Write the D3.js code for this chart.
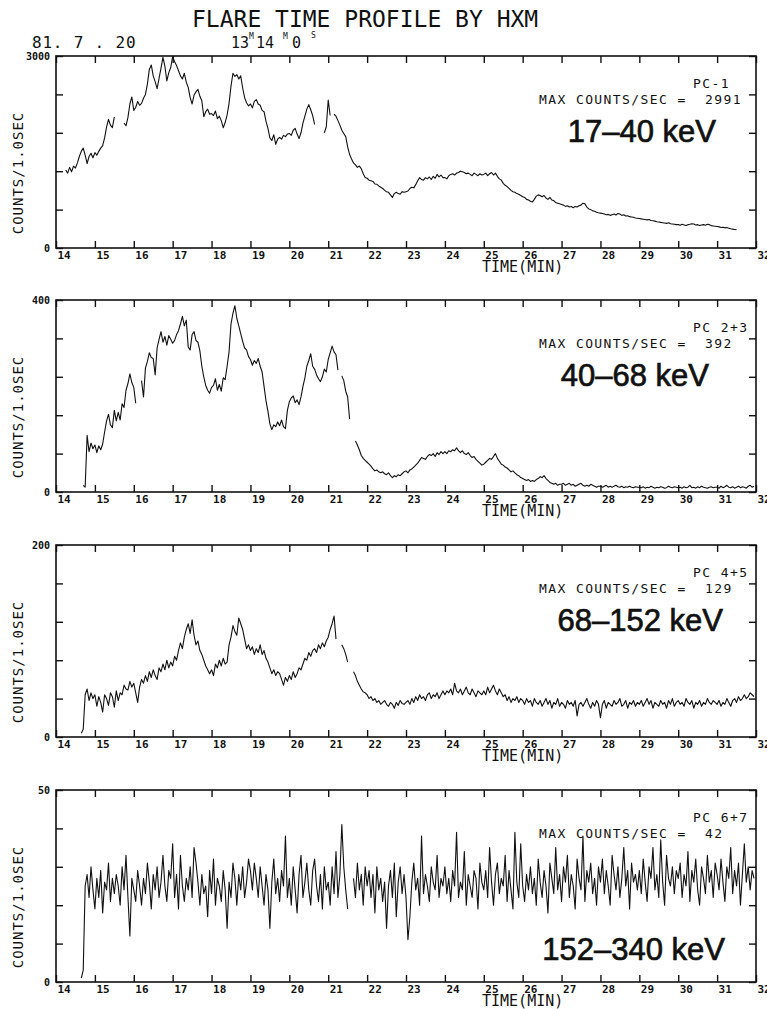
<!DOCTYPE html>
<html>
<head>
<meta charset="utf-8">
<script src="https://cdn.jsdelivr.net/npm/d3@7"></script>
<style>
  body { margin: 0; background: #fff; }
  svg text { font-family: "DejaVu Sans Mono", monospace; fill: #111; white-space: pre; }
  svg text.band { font-family: "Liberation Sans", Arial, sans-serif; stroke: #111; stroke-width: 0.7px; }
</style>
</head>
<body>
<div id="canvas"></div>
<script>

var _ = null;

// one row per minute, samples every 0.05 min (3 s)
var minutes = [14, 15, 16, 17, 18, 19, 20, 21, 22, 23, 24, 25, 26, 27, 28, 29, 30, 31];
var step = 0.05;
var xTicks = [14, 15, 16, 17, 18, 19, 20, 21, 22, 23, 24, 25, 26, 27, 28, 29, 30, 31, 32];

var bands = ['17\u201340 keV', '40\u201368 keV', '68\u2013152 keV', '152\u2013340 keV'];
var counters = ['PC-1', 'PC 2+3', 'PC 4+5', 'PC 6+7'];
var maxCounts = [2991, 392, 129, 42];
var yTop = [3000, 400, 200, 50];

var pc1 = [
  [_,_,_,_,_,1220,1170,1260,1190,1280,1250,1330,1430,1510,1560,1450,1320,1430,1480,1410],
  [1490,1450,1510,1560,1600,1720,1890,2010,1920,1880,2050,_,_,_,_,1950,1910,2040,2250,2360],
  [2150,2200,2290,2230,2260,2340,2400,2560,2790,2860,2690,2600,2490,2650,2810,2980,2840,2610,2740,2820],
  [2990,2910,2850,2770,2690,2640,2730,2590,2510,2350,2250,2390,2440,2480,2370,2300,2050,2130,2170,2090],
  [2100,2070,2140,2020,2060,1990,1880,1960,2080,2260,2530,2730,2680,2710,2640,2690,2500,2350,2270,2220],
  [2250,2190,2290,2320,2250,2230,2150,2130,1980,1870,1720,1680,1770,1620,1700,1730,1700,1760,1740,1780],
  [1790,1760,1840,1870,1780,1710,1800,1950,2060,2170,2240,2160,2070,1930,_,_,_,_,1800,1890],
  [2310,2070,_,2090,2060,1990,1920,1840,1790,1740,1580,1460,1390,1330,1300,1260,1280,1240,1160,1100],
  [1090,1060,1050,1040,1000,995,970,950,930,900,880,870,830,790,850,870,850,840,880,870],
  [880,890,930,950,940,990,1050,1100,1070,1060,1100,1080,1110,1070,1120,1090,1150,1110,1140,1100],
  [1100,1080,1130,1150,1160,1140,1170,1180,1200,1190,1180,1160,1170,1150,1130,1170,1150,1130,1160,1140],
  [1150,1170,1130,1160,1180,1140,1170,1120,1080,1060,1010,980,960,930,900,880,870,850,840,820],
  [800,790,760,750,730,720,760,810,830,820,800,820,780,760,790,750,740,710,700,690],
  [680,670,650,660,640,650,630,650,640,660,670,700,690,640,610,600,580,575,560,550],
  [545,540,530,520,525,510,520,530,515,540,530,510,520,500,505,490,485,480,470,465],
  [460,455,450,445,440,445,430,425,420,410,405,400,395,390,385,395,380,375,370,365],
  [365,355,370,360,350,365,370,380,375,360,365,350,360,365,355,370,365,350,345,340],
  [335,330,320,325,315,320,310,300,295,290,285,_,_,_,_,_,_,_,_,_]
];

var pc23 = [
  [_,_,_,_,_,_,_,_,_,_,_,_,_,_,14,10,118,84,102,90],
  [98,82,96,88,100,125,148,162,140,134,170,148,166,150,184,176,212,226,246,228],
  [218,185,_,_,232,198,258,272,290,280,278,244,300,318,334,312,324,306,326,318],
  [310,316,328,336,350,366,346,358,302,296,328,334,316,312,294,262,240,222,212,206],
  [218,222,236,212,224,210,238,234,262,292,350,372,388,362,346,330,314,300,296,282],
  [276,264,274,268,278,262,250,220,190,168,142,130,140,136,146,138,150,136,132,170],
  [188,196,200,186,192,182,198,220,238,262,274,288,262,256,244,236,230,240,256,250],
  [276,290,304,292,286,254,_,242,232,210,198,152,_,_,106,98,88,76,70,66],
  [62,58,54,48,44,46,42,40,42,38,36,40,34,30,34,32,36,34,38,42],
  [44,40,46,48,52,56,60,66,72,70,68,74,78,76,80,74,82,78,84,80],
  [84,80,86,84,88,86,92,86,82,86,80,78,82,76,72,74,68,64,60,56],
  [58,62,66,70,68,74,80,70,64,58,56,52,50,46,42,44,40,36,34,30],
  [28,26,24,26,22,24,22,26,28,32,30,34,28,24,20,18,16,18,14,16],
  [16,18,14,16,18,14,16,12,14,16,18,14,12,14,12,16,14,12,10,12],
  [12,10,12,14,10,12,10,12,14,11,10,12,9,11,10,12,10,9,11,10],
  [10,9,11,8,10,9,12,10,8,10,9,11,10,8,9,12,10,9,11,10],
  [9,10,8,11,9,10,14,9,10,8,11,9,12,10,9,8,10,11,9,10],
  [10,8,12,9,11,14,10,9,11,8,10,12,9,11,10,8,12,14,10,12]
];

var pc45 = [
  [_,_,_,_,_,_,_,_,_,_,_,_,_,4,8,44,50,38,46,40],
  [44,32,42,36,26,44,40,33,46,42,31,48,38,46,44,54,50,49,58,52],
  [56,46,36,52,60,56,64,58,68,62,70,64,60,72,68,76,70,80,72,78],
  [74,84,80,90,98,92,104,112,118,108,122,106,96,100,90,86,80,74,70,66],
  [70,64,76,72,80,74,82,76,78,96,104,116,110,106,124,118,112,102,92,96],
  [90,94,86,92,88,96,86,90,82,78,72,66,70,64,68,66,60,54,62,58],
  [64,60,68,62,66,72,70,76,82,80,88,84,90,92,88,96,92,98,94,100],
  [104,112,118,126,102,_,_,96,92,86,78,_,_,68,64,58,54,50,47,46],
  [44,40,42,38,40,36,38,34,36,38,34,32,36,34,30,36,33,38,35,34],
  [36,38,34,40,36,42,38,44,40,42,38,44,46,40,44,42,46,40,44,48],
  [44,48,46,50,44,56,48,46,50,44,48,52,46,44,50,46,42,48,46,44],
  [48,44,52,46,50,54,48,44,50,46,42,44,38,42,36,40,38,42,36,40],
  [38,34,40,36,38,32,40,36,34,38,32,36,40,34,38,30,36,34,40,32],
  [36,34,30,38,34,36,32,38,22,34,36,32,36,40,34,30,36,32,38,34],
  [20,34,38,30,36,34,32,38,34,36,40,32,34,38,30,36,34,38,32,36],
  [34,38,32,36,40,34,38,30,36,34,32,38,34,36,30,38,34,40,32,36],
  [38,34,36,32,40,36,34,38,30,36,34,38,32,36,34,40,36,34,38,36],
  [34,38,32,36,34,40,36,32,38,40,36,42,38,40,44,40,42,46,44,42]
];

var pc67 = [
  [_,_,_,_,_,_,_,_,_,_,_,_,_,1,3,25,28,22,30,24],
  [19,27,22,29,18,26,24,31,21,27,23,28,25,20,30,24,33,22,12,27],
  [24,21,29,25,20,27,23,31,26,19,28,24,30,22,26,33,25,21,29,27],
  [36,22,28,19,33,25,21,27,24,30,22,35,31,26,20,28,23,25,17,29],
  [23,32,20,27,25,21,29,24,14,26,22,31,27,20,28,24,30,22,26,32],
  [29,24,31,27,22,30,25,20,28,24,14,26,32,23,27,21,29,25,38,22],
  [27,20,30,24,18,28,33,22,26,31,24,20,29,32,25,21,28,19,30,24],
  [26,20,30,23,34,22,28,41,30,24,19,_,_,27,22,31,24,28,20,30],
  [25,29,22,28,18,30,24,27,21,26,14,25,29,22,31,17,26,30,23,28],
  [22,11,17,26,31,24,27,20,38,23,28,25,21,30,26,24,33,22,27,25],
  [30,23,27,21,29,25,39,22,26,24,34,20,28,25,22,29,27,19,31,26],
  [24,29,22,35,26,20,28,31,23,27,25,33,21,29,24,19,39,26,22,36],
  [25,21,28,24,30,23,27,20,32,26,22,29,25,18,31,27,23,35,24,28],
  [21,30,26,33,22,28,25,19,32,27,24,38,21,29,26,31,23,27,20,30],
  [26,32,23,29,25,20,33,28,24,30,22,27,35,25,29,19,31,26,28,24],
  [29,23,32,26,21,30,27,35,24,28,22,37,26,20,33,27,25,30,23,29],
  [27,31,22,28,25,34,21,29,26,32,24,20,30,27,23,33,26,29,22,31],
  [28,24,32,26,21,30,27,35,23,29,25,31,20,28,36,26,30,24,29,27]
];

var series = [pc1, pc23, pc45, pc67];

// layout
var left = 56, right = 756, panelH = 192;
var panelTop = [56, 300, 545, 790];
var bandBase = [86, 86, 86, 170];
var bandRight = [716, 709, 723, 725];

var svg = d3.select('#canvas').append('svg')
  .attr('width', 767)
  .attr('height', 1009);

var x = d3.scaleLinear().domain([14, 32]).range([left, right]);

svg.append('text')
  .attr('x', 192).attr('y', 27)
  .attr('font-size', 23)
  .text('FLARE TIME PROFILE BY HXM');

svg.append('text')
  .attr('x', 32).attr('y', 48)
  .attr('font-size', 16)
  .attr('letter-spacing', 0.8)
  .text('81. 7 . 20');

var stamp = [
  {t: '13', x: 231, y: 48, s: 15},
  {t: 'M', x: 249, y: 39, s: 8},
  {t: '14', x: 256, y: 48, s: 15},
  {t: 'M', x: 283, y: 39, s: 8},
  {t: '0', x: 292, y: 48, s: 15},
  {t: 'S', x: 311, y: 38, s: 8}
];
svg.selectAll('text.stamp').data(stamp).enter().append('text')
  .attr('class', 'stamp')
  .attr('x', function (d) { return d.x; })
  .attr('y', function (d) { return d.y; })
  .attr('font-size', function (d) { return d.s; })
  .text(function (d) { return d.t; });

var drawPanel = function (i) {
  var top = panelTop[i], bottom = top + panelH;
  var y = d3.scaleLinear().domain([0, yTop[i]]).range([bottom, top]);
  var yTicks = d3.range(0, yTop[i] + 1, yTop[i] / 5);
  var g = svg.append('g');

  var points = [];
  series[i].forEach(function (row, r) {
    row.forEach(function (v, j) {
      points.push({t: minutes[r] + j * step, v: v});
    });
  });

  var line = d3.line()
    .defined(function (d) { return d.v !== null; })
    .x(function (d) { return x(d.t); })
    .y(function (d) { return y(d.v); });

  g.append('path')
    .datum(points)
    .attr('fill', 'none')
    .attr('stroke', '#111')
    .attr('stroke-width', 1.1)
    .attr('stroke-linejoin', 'round')
    .attr('d', line);

  g.append('rect')
    .attr('x', left).attr('y', top)
    .attr('width', right - left).attr('height', panelH)
    .attr('fill', 'none')
    .attr('stroke', '#111')
    .attr('stroke-width', 1.6);

  var axisStyle = function (a) {
    a.select('.domain').remove();
    a.selectAll('line').attr('stroke', '#111').attr('stroke-width', 1.4);
  };

  g.append('g')
    .attr('transform', 'translate(0,' + bottom + ')')
    .call(d3.axisBottom(x).tickValues(xTicks).tickSize(-7).tickPadding(3)
      .tickFormat(d3.format('d')))
    .call(axisStyle)
    .call(function (a) {
      a.selectAll('text')
        .attr('text-anchor', 'start')
        .attr('x', 1)
        .attr('font-size', 11)
        .attr('font-weight', 'bold');
    });

  g.append('g')
    .attr('transform', 'translate(0,' + top + ')')
    .call(d3.axisTop(x).tickValues(xTicks).tickSize(-7).tickFormat(''))
    .call(axisStyle);

  g.append('g')
    .attr('transform', 'translate(' + left + ',0)')
    .call(d3.axisLeft(y).tickValues(yTicks).tickSize(-7).tickPadding(6)
      .tickFormat(function (d) { return (d === 0 || d === yTop[i]) ? d : ''; }))
    .call(axisStyle)
    .call(function (a) {
      a.selectAll('text').attr('font-size', 10).attr('font-weight', 'bold');
    });

  g.append('g')
    .attr('transform', 'translate(' + right + ',0)')
    .call(d3.axisRight(y).tickValues(yTicks).tickSize(-7).tickFormat(''))
    .call(axisStyle);

  g.append('text')
    .attr('x', 482).attr('y', bottom + 24)
    .attr('font-size', 15)
    .text('TIME(MIN)');

  g.append('text')
    .attr('transform', 'translate(23,' + (top + 117) + ') rotate(-90)')
    .attr('text-anchor', 'middle')
    .attr('font-size', 14)
    .attr('letter-spacing', 1)
    .text('COUNTS/1.0SEC');

  g.append('text')
    .attr('x', 693).attr('y', top + 32)
    .attr('font-size', 13)
    .attr('letter-spacing', 1.4)
    .text(counters[i]);

  g.append('text')
    .attr('x', 539).attr('y', top + 48)
    .attr('font-size', 13)
    .attr('letter-spacing', 1.4)
    .text('MAX COUNTS/SEC =  ' + maxCounts[i]);

  g.append('text')
    .attr('class', 'band')
    .attr('x', bandRight[i]).attr('y', top + bandBase[i])
    .attr('text-anchor', 'end')
    .attr('font-size', 31)
    .text(bands[i]);
};

[0, 1, 2, 3].forEach(drawPanel);

</script>
</body>
</html>
